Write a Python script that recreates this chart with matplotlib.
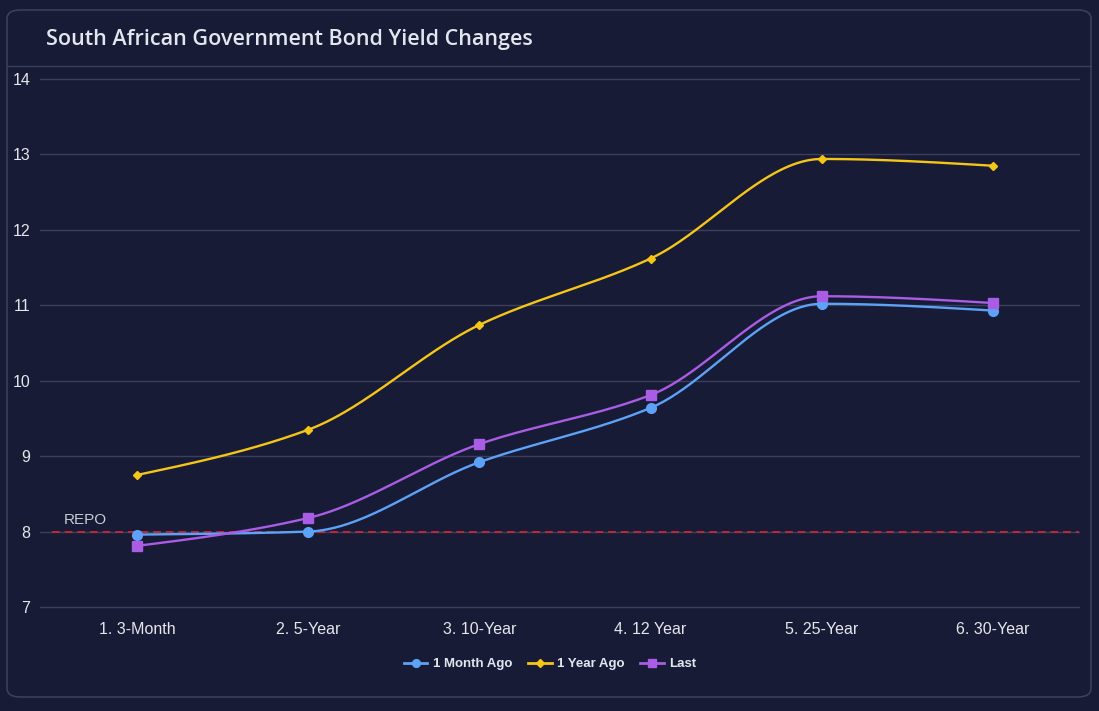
import numpy as np
import matplotlib
matplotlib.use("Agg")
import matplotlib.pyplot as plt
from matplotlib.patches import FancyBboxPatch
from matplotlib.lines import Line2D

categories = ["1. 3-Month", "2. 5-Year", "3. 10-Year", "4. 12 Year", "5. 25-Year", "6. 30-Year"]
month_ago = [7.96, 8.00, 8.92, 9.64, 11.02, 10.93]
year_ago = [8.75, 9.35, 10.74, 11.62, 12.94, 12.85]
last = [7.81, 8.18, 9.16, 9.81, 11.12, 11.03]
repo = 8.0
y_ticks = [7, 8, 9, 10, 11, 12, 13, 14]

BG = "#171b36"
GRID = "#3b3f5c"
TXT = "#e4e6ef"


def pchip(x, y, xs):
    x = np.asarray(x, float); y = np.asarray(y, float)
    h = np.diff(x); d = np.diff(y) / h
    n = len(x); m = np.zeros(n)
    for k in range(1, n - 1):
        if d[k - 1] * d[k] > 0:
            w1 = 2 * h[k] + h[k - 1]; w2 = h[k] + 2 * h[k - 1]
            m[k] = (w1 + w2) / (w1 / d[k - 1] + w2 / d[k])
    m[0] = (3 * d[0] - m[1]) / 2
    if np.sign(m[0]) != np.sign(d[0]):
        m[0] = 0
    m[-1] = (3 * d[-1] - m[-2]) / 2
    if np.sign(m[-1]) != np.sign(d[-1]):
        m[-1] = 0
    idx = np.clip(np.searchsorted(x, xs) - 1, 0, n - 2)
    t = (xs - x[idx]) / h[idx]
    h00 = 2 * t**3 - 3 * t**2 + 1; h10 = t**3 - 2 * t**2 + t
    h01 = -2 * t**3 + 3 * t**2; h11 = t**3 - t**2
    return h00 * y[idx] + h10 * h[idx] * m[idx] + h01 * y[idx + 1] + h11 * h[idx] * m[idx + 1]


W, H = 1099, 711
fig = plt.figure(figsize=(W / 100, H / 100), dpi=100)
fig.patch.set_facecolor(BG)

card = FancyBboxPatch((7 / W, 1 - 697 / H), (1091 - 7) / W, (697 - 10) / H,
                      boxstyle="round,pad=0,rounding_size=0.012", transform=fig.transFigure,
                      facecolor=BG, edgecolor="#3a3f5e", linewidth=1.2, zorder=-5)
fig.add_artist(card)
fig.add_artist(Line2D([7 / W, 1091 / W], [1 - 66 / H, 1 - 66 / H], color="#3a3f5e", lw=1.0,
                      transform=fig.transFigure, zorder=-4))
fig.text(46 / W, 1 - 40 / H, "South African Government Bond Yield Changes", color=TXT,
         fontsize=15.5, family=["Open Sans", "DejaVu Sans"], fontweight="semibold", va="center", ha="left")

left, right, top, bottom = 40, 1079, 79, 607
ax = fig.add_axes([left / W, 1 - bottom / H, (right - left) / W, (bottom - top) / H], zorder=2)
ax.set_facecolor("none")
px = 171.2
ax.set_xlim(-(137 - left) / px, 5 + (right - 993) / px)
ax.set_ylim(7, 14)
for s in ax.spines.values():
    s.set_visible(False)
x = np.arange(len(categories))
ax.set_xticks(x)
ax.set_xticklabels(categories)
ax.set_yticks(y_ticks)
ax.tick_params(axis="both", length=0, colors="#e6e6ec", labelsize=11.5)
ax.tick_params(axis="x", pad=11)
ax.tick_params(axis="y", pad=7)
for lab in ax.get_xticklabels() + ax.get_yticklabels():
    lab.set_family(["Liberation Sans", "DejaVu Sans"])
for yt in y_ticks:
    ax.axhline(yt, color=GRID, lw=1.0, zorder=1, clip_on=False)

ax.axhline(repo, xmin=(52 - left) / (right - left), xmax=1, color="#c0283a", lw=1.4,
           ls=(0, (4, 2.5)), zorder=2)
ax.text(-0.5 + 12 / px, repo + 0.06, "REPO", color="#c8cad6", fontsize=11,
        family=["Liberation Sans", "DejaVu Sans"], va="bottom", ha="left")

xs = np.linspace(0, 5, 400)
series = [
    ("1 Month Ago", month_ago, "#5ea2f7", "o", 7),
    ("1 Year Ago", year_ago, "#f5c518", "D", 4.5),
    ("Last", last, "#a95ce4", "s", 7),
]
handles = []
for name, vals, col, mk, ms in series:
    ax.plot(xs, pchip(x, vals, xs), color=col, lw=1.7, zorder=3, solid_capstyle="round")
    ax.plot(x, vals, ls="none", marker=mk, color=col, ms=ms, zorder=4)
    handles.append(Line2D([], [], color=col, lw=2, marker=mk, ms=ms * 0.8, label=name))

leg = fig.legend(handles=handles, loc="center", bbox_to_anchor=(550 / W, 1 - 664 / H), ncol=3,
                 frameon=False, handlelength=1.8, handletextpad=0.4, columnspacing=1.2,
                 prop={"family": ["Liberation Sans", "DejaVu Sans"], "weight": "bold", "size": 9.5})
for t in leg.get_texts():
    t.set_color("#e4e6ef")

fig.savefig("out.png", dpi=100, facecolor=BG)
